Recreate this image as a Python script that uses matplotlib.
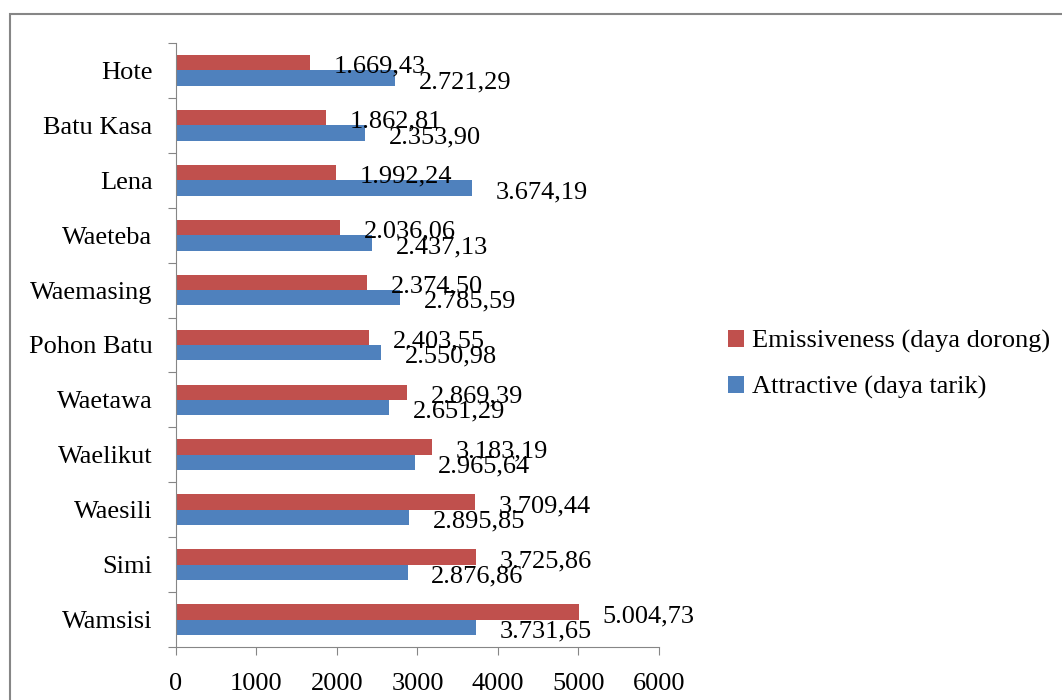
import matplotlib.pyplot as plt
from matplotlib.patches import Rectangle

# data, bottom to top (as drawn)
categories = ['Wamsisi', 'Simi', 'Waesili', 'Waelikut', 'Waetawa', 'Pohon Batu',
              'Waemasing', 'Waeteba', 'Lena', 'Batu Kasa', 'Hote']
emissiveness = [5004.73, 3725.86, 3709.44, 3183.19, 2869.39, 2403.55,
                2374.50, 2036.06, 1992.24, 1862.81, 1669.43]
attractive = [3731.65, 2876.86, 2895.85, 2965.64, 2651.29, 2550.98,
              2785.59, 2437.13, 3674.19, 2353.90, 2721.29]
x_ticks = [0, 1000, 2000, 3000, 4000, 5000, 6000]

red = '#C0504D'
blue = '#4F81BD'
axis_grey = '#868686'


# Indonesian style number: 1.669,43
def fmt(v):
	s = f"{v:,.2f}"
	return s.replace(',', 'X').replace('.', ',').replace('X', '.')


plt.rcParams['font.family'] = ['Liberation Serif', 'DejaVu Serif']
plt.rcParams['font.size'] = 19

fig = plt.figure(figsize=(10.62, 7), dpi=100)
ax = fig.add_axes([0.1657, 0.0757, 0.4548, 0.8629])

pos = list(range(len(categories)))
h = 0.28
bars_e = ax.barh([p + h / 2 for p in pos], emissiveness, height=h, color=red,
                 label='Emissiveness (daya dorong)')
bars_a = ax.barh([p - h / 2 for p in pos], attractive, height=h, color=blue,
                 label='Attractive (daya tarik)')

# data labels just past the bar ends
for bars, vals in [(bars_e, emissiveness), (bars_a, attractive)]:
	for b, v in zip(bars, vals):
		ax.annotate(fmt(v), (b.get_width(), b.get_y() + b.get_height() / 2),
		            xytext=(17, -3), textcoords='offset points',
		            ha='left', va='center', fontsize=19)

ax.set_xlim(0, 6000)
ax.set_ylim(-0.5, len(categories) - 0.5)
ax.set_xticks(x_ticks)
ax.set_xticklabels([str(t) for t in x_ticks])

# category boundaries get the ticks, names go in the middle
ax.set_yticks([p - 0.5 for p in pos] + [len(categories) - 0.5])
ax.set_yticklabels([])
ax.set_yticks(pos, minor=True)
ax.set_yticklabels(categories, minor=True)
ax.tick_params(axis='y', which='minor', length=0, pad=17)
ax.tick_params(axis='y', which='major', length=6, color=axis_grey)
ax.tick_params(axis='x', length=6, color=axis_grey, pad=13)

for side in ['top', 'right']:
	ax.spines[side].set_visible(False)
for side in ['left', 'bottom']:
	ax.spines[side].set_color(axis_grey)

fig.legend(handles=[bars_e, bars_a], loc='center left',
           bbox_to_anchor=(0.663, 0.479), frameon=False,
           handlelength=0.6, handleheight=0.6, handletextpad=0.3,
           labelspacing=0.85, fontsize=19)

# outer chart border (right and bottom edges fall outside the picture)
fig.patches.append(Rectangle((10 / 1062, -0.1), 1.2, 1.1 - 14 / 700,
                             transform=fig.transFigure, fill=False,
                             edgecolor=axis_grey, linewidth=1.5))

fig.savefig('out.png', dpi=100)
